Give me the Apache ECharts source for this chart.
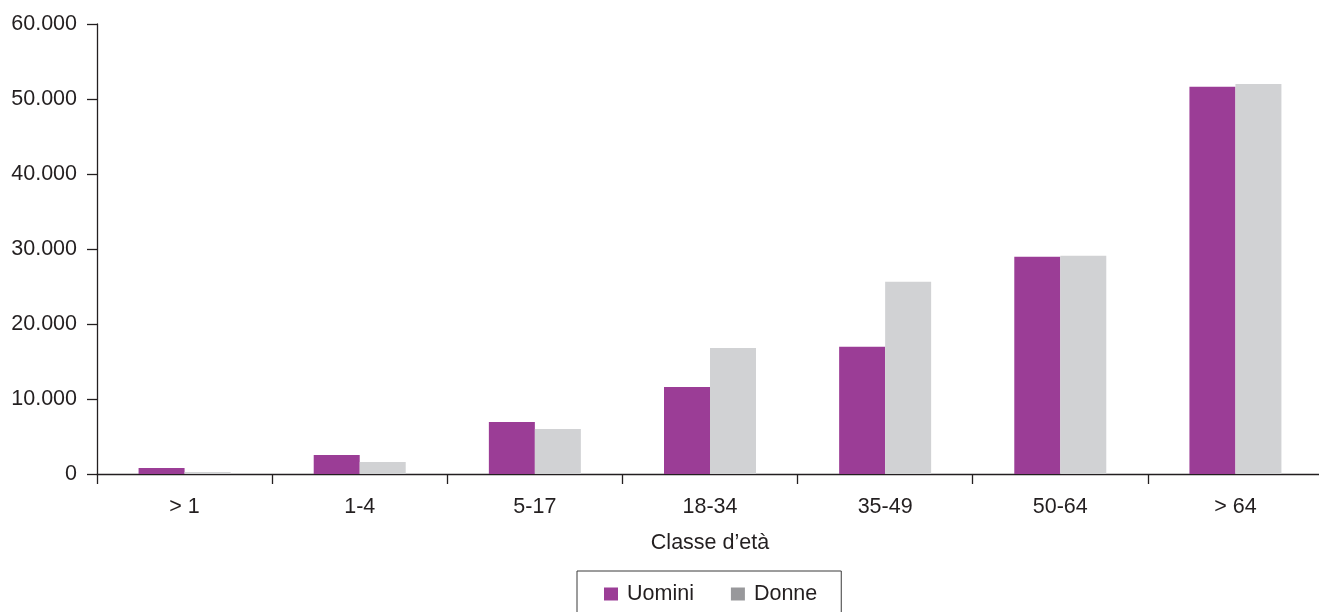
<!DOCTYPE html>
<html>
<head>
<meta charset="utf-8">
<script src="https://cdn.jsdelivr.net/npm/echarts@6/dist/echarts.min.js"></script>
<style>
html,body{margin:0;padding:0;background:#fff;overflow:hidden;}
#chart{width:1326px;height:612px;}
</style>
</head>
<body>
<div id="chart"></div>
<script>
const categories = ['> 1', '1-4', '5-17', '18-34', '35-49', '50-64', '> 64'];
const uomini = [800, 2530, 6930, 11600, 16970, 28970, 51640];
const donne = [270, 1600, 6000, 16800, 25640, 29100, 52000];
const yTicks = [0, 10000, 20000, 30000, 40000, 50000, 60000];
const xName = 'Classe d’età';

const FONT = '"Liberation Sans", Arial, sans-serif';
const TXT = '#231F20';
const FS = 21.5;

function fmt(v) {
  return String(v).replace(/\B(?=(\d{3})+(?!\d))/g, '.');
}

const chart = echarts.init(document.getElementById('chart'), null, {renderer: 'canvas'});
chart.setOption({
  animation: false,
  backgroundColor: '#ffffff',
  textStyle: {fontFamily: FONT},
  grid: {left: 97, top: 24, bottom: 138, right: 3, containLabel: false},
  legend: {
    left: 577,
    top: 571,
    orient: 'horizontal',
    borderColor: '#3a3a3a',
    borderWidth: 1,
    padding: [12, 24, 20, 27],
    itemWidth: 14,
    itemHeight: 13,
    itemGap: 37,
    icon: 'rect',
    textStyle: {fontFamily: FONT, fontSize: FS, color: TXT, padding: [0, 0, 0, 4]},
    data: [
      {name: 'Uomini', itemStyle: {color: '#9B3D96'}},
      {name: 'Donne', itemStyle: {color: '#98989B'}}
    ]
  },
  xAxis: {
    type: 'category',
    data: categories,
    name: xName,
    nameLocation: 'middle',
    nameGap: 58,
    nameTextStyle: {fontFamily: FONT, fontSize: FS, color: TXT, verticalAlign: 'top'},
    axisLine: {lineStyle: {color: '#231F20', width: 1.3}},
    axisTick: {show: true, length: 10, lineStyle: {color: '#231F20', width: 1.3}},
    axisLabel: {fontFamily: FONT, fontSize: FS, color: TXT, margin: 22},
    splitLine: {show: false}
  },
  yAxis: {
    type: 'value',
    min: yTicks[0],
    max: yTicks[yTicks.length - 1],
    interval: yTicks[1] - yTicks[0],
    axisLine: {show: true, lineStyle: {color: '#231F20', width: 1.3}},
    axisTick: {show: true, length: 10, lineStyle: {color: '#231F20', width: 1.3}},
    axisLabel: {fontFamily: FONT, fontSize: FS, color: TXT, margin: 20, formatter: fmt},
    splitLine: {show: false}
  },
  series: [
    {name: 'Uomini', type: 'bar', data: uomini, barWidth: 46, barGap: '0%',
     itemStyle: {color: '#9B3D96'}},
    {name: 'Donne', type: 'bar', data: donne, barWidth: 46, barGap: '0%',
     itemStyle: {color: '#D1D2D4'}}
  ]
});
</script>
</body>
</html>
